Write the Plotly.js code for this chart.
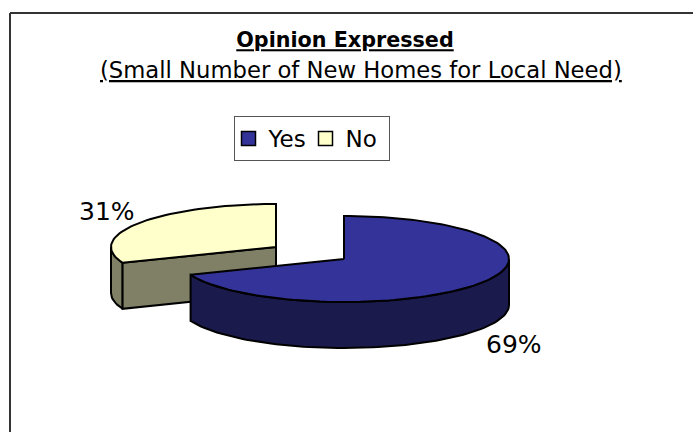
<!DOCTYPE html>
<html>
<head>
<meta charset="utf-8">
<script src="https://cdn.plot.ly/plotly-3.0.1.min.js"></script>
<style>html,body{margin:0;padding:0;background:#fff}#chart{width:693px;height:432px}</style>
</head>
<body>
<div id="chart"></div>
<script>
const categories = ['Yes', 'No'];
const shares = [69, 31];
const topColors = ['#333399', '#FFFFCC'];
const wallColors = ['#1A1A4D', '#808066'];
const chartTitle = 'Opinion Expressed';
const chartSubtitle = '(Small Number of New Homes for Local Need)';

const FONT = '"DejaVu Sans", Verdana, sans-serif';
const RX = 165, RY = 43, DEPTH = 46;
const centers = [[344, 259], [276, 247]];
const total = shares[0] + shares[1];
const splitDeg = 360 * shares[0] / total;

function pt(c, deg, drop) {
  const a = deg * Math.PI / 180;
  return [c[0] + RX * Math.sin(a), c[1] - RY * Math.cos(a) + (drop || 0)];
}
function arc(c, from, to, drop) {
  const out = [], n = Math.max(2, Math.round(Math.abs(to - from) / 2));
  for (let i = 0; i <= n; i++) out.push(pt(c, from + (to - from) * i / n, drop));
  return out;
}
function poly(points, fill) {
  const closed = points.concat([points[0]]);
  return {
    type: 'scatter', mode: 'lines', fill: 'toself', fillcolor: fill,
    x: closed.map(p => p[0]), y: closed.map(p => p[1]),
    line: {color: '#000', width: 2, shape: 'linear'},
    hoverinfo: 'skip', showlegend: false
  };
}

const cY = centers[0], cN = centers[1];
const traces = [
  poly(arc(cN, splitDeg, 270).concat(arc(cN, 270, splitDeg, DEPTH)), wallColors[1]),
  poly([cN, pt(cN, splitDeg), pt(cN, splitDeg, DEPTH), [cN[0], cN[1] + DEPTH]], wallColors[1]),
  poly([cN].concat(arc(cN, splitDeg, 360)), topColors[1]),
  poly(arc(cY, 90, splitDeg).concat(arc(cY, splitDeg, 90, DEPTH)), wallColors[0]),
  poly([cY].concat(arc(cY, 0, splitDeg)), topColors[0])
];
categories.forEach((name, i) => traces.push({
  type: 'scatter', mode: 'markers', name: name, x: [null], y: [null],
  marker: {symbol: 'square', size: 14, color: topColors[i], line: {color: '#000', width: 1.5}},
  showlegend: true, hoverinfo: 'skip'
}));

const layout = {
  width: 693, height: 432,
  margin: {l: 0, r: 0, t: 0, b: 0},
  paper_bgcolor: '#fff', plot_bgcolor: '#fff',
  xaxis: {range: [0, 693], visible: false, fixedrange: true},
  yaxis: {range: [432, 0], visible: false, fixedrange: true},
  title: {
    text: '<b>' + chartTitle + '</b>',
    x: 345 / 693, xanchor: 'center', xref: 'paper',
    y: 1 - 40 / 432, yanchor: 'middle', yref: 'paper',
    font: {family: FONT, size: 20.7, color: '#000', lineposition: 'under'}
  },
  legend: {
    orientation: 'h', x: 233.5 / 693, y: 1 - 116 / 432, xanchor: 'left', yanchor: 'top',
    bgcolor: '#fff', bordercolor: '#555', borderwidth: 1,
    font: {family: FONT, size: 23, color: '#000'},
    itemwidth: 30, traceorder: 'normal', indentation: -6,
    entrywidth: 38, entrywidthmode: 'pixels'
  },
  shapes: [
    {type: 'line', xref: 'paper', yref: 'paper', x0: 10 / 693, x1: 1, y0: 1 - 13 / 432, y1: 1 - 13 / 432, line: {color: '#333', width: 2}},
    {type: 'line', xref: 'paper', yref: 'paper', x0: 10 / 693, x1: 10 / 693, y0: 1 - 13 / 432, y1: 0, line: {color: '#333', width: 2}}
  ],
  annotations: [
    {xref: 'x', yref: 'y', x: 360.5, y: 70, text: chartSubtitle, showarrow: false,
     font: {family: FONT, size: 22.7, color: '#000', lineposition: 'under'}},
    {xref: 'x', yref: 'y', x: 107, y: 211, text: Math.round(100 * shares[1] / total) + '%', showarrow: false,
     font: {family: FONT, size: 25, color: '#000'}},
    {xref: 'x', yref: 'y', x: 514, y: 344, text: Math.round(100 * shares[0] / total) + '%', showarrow: false,
     font: {family: FONT, size: 25, color: '#000'}}
  ]
};
Plotly.newPlot('chart', traces, layout, {displayModeBar: false, staticPlot: true});
</script>
</body>
</html>
